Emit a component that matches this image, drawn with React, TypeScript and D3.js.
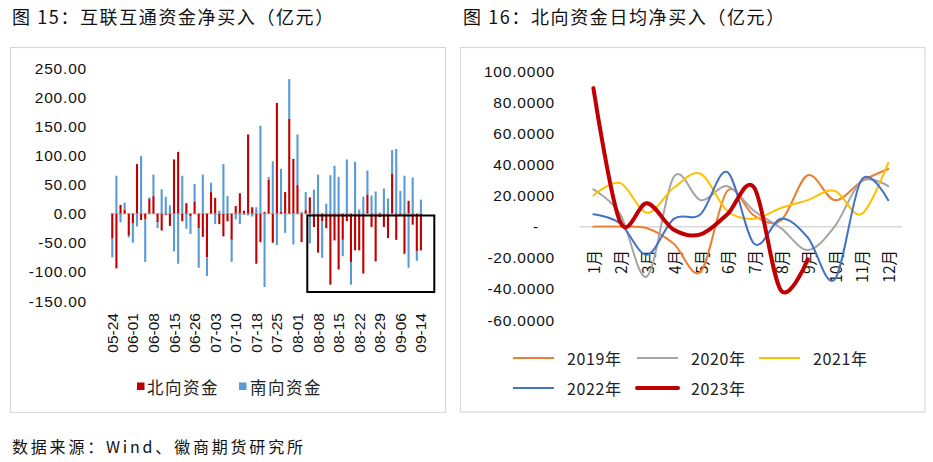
import React from "react";
import * as d3 from "d3";

// ---------- Left chart data (daily net buy, 亿元) ----------
const tickDates = ["05-24","06-01","06-08","06-15","06-26","07-03","07-10","07-18","07-25","08-01","08-08","08-15","08-22","08-29","09-06","09-14"];
const northFlow = [-43,-94,15,7,-38,-17,85,-11,-10,25,30,-15,-29,-2,-21,93,106,-13,18,-5,21,-25,-40,-75,37,27,-18,-39,-13,-45,13,35,5,136,11,-86,-49,3,58,-50,190,3,37,163,94,49,-49,6,28,-23,-67,-13,-25,-122,-46,-96,-45,-13,-83,-63,-63,-103,33,-23,-82,-6,-23,-42,69,-45,-4,-69,22,-19,-65,-63];
const southFlow = [-32,65,-15,12,-3,-33,-22,99,-73,3,37,-10,42,29,14,-65,-86,65,-26,-30,30,-68,67,-32,16,-18,5,85,30,-38,-10,-18,-2,-3,-5,11,151,-126,5,90,-54,74,-33,68,-53,87,3,31,-51,41,67,-63,17,66,82,63,-28,93,-39,89,7,29,41,31,38,2,43,26,40,111,39,65,-93,62,-16,24];
const leftTicks = [250,200,150,100,50,0,-50,-100,-150];

// ---------- Right chart data (daily avg northbound, 亿元) ----------
const months = ["1月","2月","3月","4月","5月","6月","7月","8月","9月","10月","11月","12月"];
const y2019 = [0,0,-1,-11,-29,23,7,4,33,17,29,37];
const y2020 = [24,8,-32,32,17,26,10,-1,-15,0,29,26];
const y2021 = [20,28,9,25,34,10,5,12,17,23,8,41];
const y2022 = [8,2,-18,5,8,35,-11,5,-7,-34,30,17];
const y2023 = [89,3,15,-2,-5,8,25,-41,-21];
const rightTicks = [100,80,60,40,20,0,-20,-40,-60];

const RED = "#c00000";
const BLUE = "#5b9bd5";
const CJK = "'Noto Sans CJK SC', 'Noto Sans', sans-serif";
const NUM = "'Liberation Sans', Arial, sans-serif";

function LeftChart() {
  const n = northFlow.length;
  const idx = d3.range(n);
  const x = d3.scaleBand<number>().domain(idx).range([110.24, 422.98]).padding(0);
  const y = d3.scaleLinear().domain([-150, 250]).range([301, 68]);
  const rows = idx.map((i) => ({ i, north: northFlow[i], south: southFlow[i] }));
  const stack = d3.stack<any>().keys(["north", "south"]).offset(d3.stackOffsetDiverging);
  const series = stack(rows);
  const colors: Record<string, string> = { north: RED, south: BLUE };
  const bw = 2.1;
  return (
    <g>
      <rect x={10.5} y={47.5} width={435} height={365} fill="#fff" stroke="#d9d9d9" strokeWidth={1.2} />
      {leftTicks.map((t) => (
        <text key={t} x={87} y={y(t)} textAnchor="end" dominantBaseline="central" fontFamily={NUM} fontSize={15.5} letterSpacing={0.8} fill="#111">
          {t.toFixed(2)}
        </text>
      ))}
      <line x1={x(0)!} x2={x(n - 1)! + x.bandwidth()} y1={y(0)} y2={y(0)} stroke="#d9d9d9" strokeWidth={2} />
      {series.map((s) => (
        <g key={s.key}>
          {s.map((d, j) => (
            <rect
              key={j}
              x={x(j)! + x.bandwidth() / 2 - bw / 2}
              width={bw}
              y={y(Math.max(d[0], d[1]))}
              height={Math.abs(y(d[0]) - y(d[1]))}
              fill={colors[s.key]}
            />
          ))}
        </g>
      ))}
      {tickDates.map((t, k) => {
        const cx = x(k * 5)! + x.bandwidth() / 2;
        return (
          <text key={t} transform={`translate(${cx},313) rotate(-90)`} textAnchor="end" dominantBaseline="central" fontFamily={NUM} fontSize={15.5} fill="#111">
            {t}
          </text>
        );
      })}
      <rect x={307.3} y={215.5} width={127} height={76.5} fill="none" stroke="#000" strokeWidth={2} />
      <rect x={137} y={382.5} width={7.5} height={7.5} fill={RED} />
      <text x={147} y={386.5} dominantBaseline="central" fontFamily={CJK} fontSize={16.5} letterSpacing={1.5} fill="#222">北向资金</text>
      <rect x={239} y={382.5} width={7.5} height={7.5} fill={BLUE} />
      <text x={250} y={386.5} dominantBaseline="central" fontFamily={CJK} fontSize={16.5} letterSpacing={1.5} fill="#222">南向资金</text>
    </g>
  );
}

function RightChart() {
  const x = d3.scalePoint<string>().domain(months).range([593.4, 888.2]);
  const y = d3.scaleLinear().domain([-60, 100]).range([320, 71]);
  const line = d3
    .line<number>()
    .x((_, i) => x(months[i])!)
    .y((d) => y(d))
    .curve(d3.curveCardinal.tension(0));
  const lines = [
    { name: "2019年", data: y2019, color: "#ed7d31", w: 2 },
    { name: "2020年", data: y2020, color: "#a5a5a5", w: 2 },
    { name: "2021年", data: y2021, color: "#ffc000", w: 2 },
    { name: "2022年", data: y2022, color: "#4472c4", w: 2 },
    { name: "2023年", data: y2023, color: RED, w: 4 },
  ];
  const legendPos = [
    { lx: 513, ty: 358 },
    { lx: 637, ty: 358 },
    { lx: 759, ty: 358 },
    { lx: 513, ty: 388 },
    { lx: 637, ty: 388 },
  ];
  return (
    <g>
      <rect x={460.5} y={47.5} width={464.5} height={364.5} fill="#fff" stroke="#d9d9d9" strokeWidth={1.2} />
      {rightTicks.map((t) => (
        <text key={t} x={t === 0 ? 539 : 555} y={y(t)} textAnchor="end" dominantBaseline="central" fontFamily={NUM} fontSize={15.5} letterSpacing={0.8} fill="#111">
          {t === 0 ? "-" : t.toFixed(4)}
        </text>
      ))}
      <line x1={580} x2={902} y1={y(0)} y2={y(0)} stroke="#d9d9d9" strokeWidth={1.5} />
      {months.map((m) => (
        <text key={m} transform={`translate(${x(m)},250) rotate(-90)`} textAnchor="end" dominantBaseline="central" fontFamily={CJK} fontSize={15.5} fill="#111">
          {m}
        </text>
      ))}
      {lines.map((l) => (
        <path key={l.name} d={line(l.data) || ""} fill="none" stroke={l.color} strokeWidth={l.w} strokeLinecap="round" strokeLinejoin="round" />
      ))}
      {lines.map((l, i) => (
        <g key={l.name}>
          <line x1={legendPos[i].lx} x2={legendPos[i].lx + 41} y1={legendPos[i].ty} y2={legendPos[i].ty} stroke={l.color} strokeWidth={l.w} strokeLinecap={l.w > 2 ? "round" : "butt"} />
          <text x={legendPos[i].lx + 54} y={legendPos[i].ty} dominantBaseline="central" fontFamily={CJK} fontSize={16} letterSpacing={0.6} fill="#222">
            {l.name}
          </text>
        </g>
      ))}
    </g>
  );
}

export default function App() {
  return (
    <svg width={933} height={462} style={{ position: "absolute", left: 0, top: 0, background: "#fff" }}>
      <rect x={0} y={0} width={933} height={462} fill="#fff" />
      <text x={12} y={16} dominantBaseline="central" fontFamily={CJK} fontSize={18} letterSpacing={1.6} fill="#111">图 15：互联互通资金净买入（亿元）</text>
      <text x={463} y={16} dominantBaseline="central" fontFamily={CJK} fontSize={18} letterSpacing={1.6} fill="#111">图 16：北向资金日均净买入（亿元）</text>
      <LeftChart />
      <RightChart />
      <text x={12} y={446} dominantBaseline="central" fontFamily={CJK} fontSize={16} letterSpacing={2.8} fill="#111">数据来源：Wind、徽商期货研究所</text>
    </svg>
  );
}
